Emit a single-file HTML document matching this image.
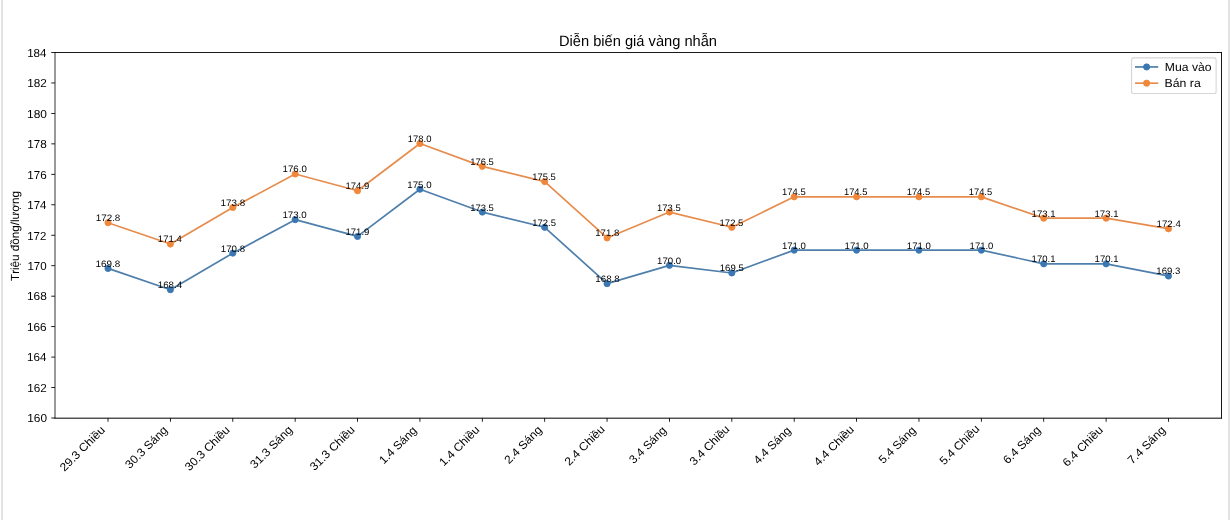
<!DOCTYPE html>
<html><head><meta charset="utf-8"><title>Diễn biến giá vàng nhẫn</title>
<style>html,body{margin:0;padding:0;background:#fff;}svg{display:block;}text{font-family:"Liberation Sans",sans-serif;fill:#000;font-kerning:none;text-rendering:geometricPrecision;}</style></head>
<body><svg width="1232" height="520" viewBox="0 0 1232 520">
<rect width="1232" height="520" fill="#fff"/>
<rect x="1" y="0" width="2" height="520" fill="#e2e2e2"/>
<rect x="1228" y="0" width="2" height="520" fill="#e2e2e2"/>
<rect x="54.6" y="52" width="0.8" height="366.5" fill="#000"/>
<rect x="55" y="52.06" width="1166.95" height="0.9" fill="#000"/>
<rect x="1221.05" y="52" width="0.9" height="366.5" fill="#000"/>
<rect x="54.5" y="417.67" width="1167.45" height="1.0" fill="#000"/>
<rect x="51.23" y="417.57" width="3.77" height="0.86" fill="#000"/>
<rect x="51.23" y="387.11" width="3.77" height="0.86" fill="#000"/>
<rect x="51.23" y="356.65" width="3.77" height="0.86" fill="#000"/>
<rect x="51.23" y="326.19" width="3.77" height="0.86" fill="#000"/>
<rect x="51.23" y="295.74" width="3.77" height="0.86" fill="#000"/>
<rect x="51.23" y="265.28" width="3.77" height="0.86" fill="#000"/>
<rect x="51.23" y="234.82" width="3.77" height="0.86" fill="#000"/>
<rect x="51.23" y="204.36" width="3.77" height="0.86" fill="#000"/>
<rect x="51.23" y="173.9" width="3.77" height="0.86" fill="#000"/>
<rect x="51.23" y="143.44" width="3.77" height="0.86" fill="#000"/>
<rect x="51.23" y="112.99" width="3.77" height="0.86" fill="#000"/>
<rect x="51.23" y="82.53" width="3.77" height="0.86" fill="#000"/>
<rect x="51.23" y="52.07" width="3.77" height="0.86" fill="#000"/>
<rect x="107.59" y="418" width="0.86" height="3.77" fill="#000"/>
<rect x="169.97" y="418" width="0.86" height="3.77" fill="#000"/>
<rect x="232.35" y="418" width="0.86" height="3.77" fill="#000"/>
<rect x="294.73" y="418" width="0.86" height="3.77" fill="#000"/>
<rect x="357.11" y="418" width="0.86" height="3.77" fill="#000"/>
<rect x="419.49" y="418" width="0.86" height="3.77" fill="#000"/>
<rect x="481.87" y="418" width="0.86" height="3.77" fill="#000"/>
<rect x="544.25" y="418" width="0.86" height="3.77" fill="#000"/>
<rect x="606.63" y="418" width="0.86" height="3.77" fill="#000"/>
<rect x="669.01" y="418" width="0.86" height="3.77" fill="#000"/>
<rect x="731.39" y="418" width="0.86" height="3.77" fill="#000"/>
<rect x="793.77" y="418" width="0.86" height="3.77" fill="#000"/>
<rect x="856.15" y="418" width="0.86" height="3.77" fill="#000"/>
<rect x="918.53" y="418" width="0.86" height="3.77" fill="#000"/>
<rect x="980.91" y="418" width="0.86" height="3.77" fill="#000"/>
<rect x="1043.29" y="418" width="0.86" height="3.77" fill="#000"/>
<rect x="1105.67" y="418" width="0.86" height="3.77" fill="#000"/>
<rect x="1168.05" y="418" width="0.86" height="3.77" fill="#000"/>
<rect x="1131.55" y="57.88" width="84.57" height="35.69" rx="2.15" fill="#fff" fill-opacity="0.8" stroke="#cccccc" stroke-opacity="0.8" stroke-width="1.08"/>
<polyline points="108.02,268.4 170.4,289.72 232.78,253.17 295.16,219.67 357.54,236.42 419.92,189.21 482.3,212.06 544.68,227.29 607.06,283.63 669.44,265.36 731.82,272.97 794.2,250.13 856.58,250.13 918.96,250.13 981.34,250.13 1043.72,263.84 1106.1,263.84 1168.48,276.02" fill="none" stroke="#4f7fab" stroke-width="1.7" stroke-linejoin="round" stroke-linecap="square"/>
<polyline points="108.02,222.72 170.4,244.04 232.78,207.49 295.16,173.98 357.54,190.74 419.92,143.53 482.3,166.37 544.68,181.6 607.06,237.95 669.44,212.06 731.82,227.29 794.2,196.83 856.58,196.83 918.96,196.83 981.34,196.83 1043.72,218.15 1106.1,218.15 1168.48,228.81" fill="none" stroke="#e68d4e" stroke-width="1.7" stroke-linejoin="round" stroke-linecap="square"/>
<circle cx="108.02" cy="268.4" r="3.1" fill="#3a77b3" stroke="#3a77b3" stroke-width="0.85"/>
<circle cx="170.4" cy="289.72" r="3.1" fill="#3a77b3" stroke="#3a77b3" stroke-width="0.85"/>
<circle cx="232.78" cy="253.17" r="3.1" fill="#3a77b3" stroke="#3a77b3" stroke-width="0.85"/>
<circle cx="295.16" cy="219.67" r="3.1" fill="#3a77b3" stroke="#3a77b3" stroke-width="0.85"/>
<circle cx="357.54" cy="236.42" r="3.1" fill="#3a77b3" stroke="#3a77b3" stroke-width="0.85"/>
<circle cx="419.92" cy="189.21" r="3.1" fill="#3a77b3" stroke="#3a77b3" stroke-width="0.85"/>
<circle cx="482.3" cy="212.06" r="3.1" fill="#3a77b3" stroke="#3a77b3" stroke-width="0.85"/>
<circle cx="544.68" cy="227.29" r="3.1" fill="#3a77b3" stroke="#3a77b3" stroke-width="0.85"/>
<circle cx="607.06" cy="283.63" r="3.1" fill="#3a77b3" stroke="#3a77b3" stroke-width="0.85"/>
<circle cx="669.44" cy="265.36" r="3.1" fill="#3a77b3" stroke="#3a77b3" stroke-width="0.85"/>
<circle cx="731.82" cy="272.97" r="3.1" fill="#3a77b3" stroke="#3a77b3" stroke-width="0.85"/>
<circle cx="794.2" cy="250.13" r="3.1" fill="#3a77b3" stroke="#3a77b3" stroke-width="0.85"/>
<circle cx="856.58" cy="250.13" r="3.1" fill="#3a77b3" stroke="#3a77b3" stroke-width="0.85"/>
<circle cx="918.96" cy="250.13" r="3.1" fill="#3a77b3" stroke="#3a77b3" stroke-width="0.85"/>
<circle cx="981.34" cy="250.13" r="3.1" fill="#3a77b3" stroke="#3a77b3" stroke-width="0.85"/>
<circle cx="1043.72" cy="263.84" r="3.1" fill="#3a77b3" stroke="#3a77b3" stroke-width="0.85"/>
<circle cx="1106.1" cy="263.84" r="3.1" fill="#3a77b3" stroke="#3a77b3" stroke-width="0.85"/>
<circle cx="1168.48" cy="276.02" r="3.1" fill="#3a77b3" stroke="#3a77b3" stroke-width="0.85"/>
<circle cx="108.02" cy="222.72" r="3.1" fill="#f0873a" stroke="#f0873a" stroke-width="0.85"/>
<circle cx="170.4" cy="244.04" r="3.1" fill="#f0873a" stroke="#f0873a" stroke-width="0.85"/>
<circle cx="232.78" cy="207.49" r="3.1" fill="#f0873a" stroke="#f0873a" stroke-width="0.85"/>
<circle cx="295.16" cy="173.98" r="3.1" fill="#f0873a" stroke="#f0873a" stroke-width="0.85"/>
<circle cx="357.54" cy="190.74" r="3.1" fill="#f0873a" stroke="#f0873a" stroke-width="0.85"/>
<circle cx="419.92" cy="143.53" r="3.1" fill="#f0873a" stroke="#f0873a" stroke-width="0.85"/>
<circle cx="482.3" cy="166.37" r="3.1" fill="#f0873a" stroke="#f0873a" stroke-width="0.85"/>
<circle cx="544.68" cy="181.6" r="3.1" fill="#f0873a" stroke="#f0873a" stroke-width="0.85"/>
<circle cx="607.06" cy="237.95" r="3.1" fill="#f0873a" stroke="#f0873a" stroke-width="0.85"/>
<circle cx="669.44" cy="212.06" r="3.1" fill="#f0873a" stroke="#f0873a" stroke-width="0.85"/>
<circle cx="731.82" cy="227.29" r="3.1" fill="#f0873a" stroke="#f0873a" stroke-width="0.85"/>
<circle cx="794.2" cy="196.83" r="3.1" fill="#f0873a" stroke="#f0873a" stroke-width="0.85"/>
<circle cx="856.58" cy="196.83" r="3.1" fill="#f0873a" stroke="#f0873a" stroke-width="0.85"/>
<circle cx="918.96" cy="196.83" r="3.1" fill="#f0873a" stroke="#f0873a" stroke-width="0.85"/>
<circle cx="981.34" cy="196.83" r="3.1" fill="#f0873a" stroke="#f0873a" stroke-width="0.85"/>
<circle cx="1043.72" cy="218.15" r="3.1" fill="#f0873a" stroke="#f0873a" stroke-width="0.85"/>
<circle cx="1106.1" cy="218.15" r="3.1" fill="#f0873a" stroke="#f0873a" stroke-width="0.85"/>
<circle cx="1168.48" cy="228.81" r="3.1" fill="#f0873a" stroke="#f0873a" stroke-width="0.85"/>
<line x1="1135.85" y1="66.95" x2="1157.38" y2="66.95" stroke="#4f7fab" stroke-width="1.7" stroke-linecap="square"/>
<circle cx="1146.62" cy="66.95" r="3.1" fill="#3a77b3" stroke="#3a77b3" stroke-width="0.85"/>
<line x1="1135.85" y1="83.18" x2="1157.38" y2="83.18" stroke="#e68d4e" stroke-width="1.7" stroke-linecap="square"/>
<circle cx="1146.62" cy="83.18" r="3.1" fill="#f0873a" stroke="#f0873a" stroke-width="0.85"/>
<g style="will-change:transform"><text x="95.61" y="266.85" font-size="9.34" textLength="24.75" lengthAdjust="spacingAndGlyphs">169.8</text>
<text x="95.76" y="221.17" font-size="9.34" textLength="24.57" lengthAdjust="spacingAndGlyphs">172.8</text>
<text x="157.79" y="288.18" font-size="9.34" textLength="24.33" lengthAdjust="spacingAndGlyphs">168.4</text>
<text x="157.86" y="242.49" font-size="9.34" textLength="23.95" lengthAdjust="spacingAndGlyphs">171.4</text>
<text x="220.77" y="251.63" font-size="9.34" textLength="24.27" lengthAdjust="spacingAndGlyphs">170.8</text>
<text x="220.64" y="205.94" font-size="9.34" textLength="24.67" lengthAdjust="spacingAndGlyphs">173.8</text>
<text x="282.40" y="218.12" font-size="9.34" textLength="24.35" lengthAdjust="spacingAndGlyphs">173.0</text>
<text x="282.58" y="172.43" font-size="9.34" textLength="24.20" lengthAdjust="spacingAndGlyphs">176.0</text>
<text x="345.51" y="234.87" font-size="9.34" textLength="23.90" lengthAdjust="spacingAndGlyphs">171.9</text>
<text x="345.57" y="189.19" font-size="9.34" textLength="23.75" lengthAdjust="spacingAndGlyphs">174.9</text>
<text x="407.39" y="187.66" font-size="9.34" textLength="24.14" lengthAdjust="spacingAndGlyphs">175.0</text>
<text x="407.77" y="141.98" font-size="9.34" textLength="23.64" lengthAdjust="spacingAndGlyphs">178.0</text>
<text x="470.16" y="210.51" font-size="9.34" textLength="23.68" lengthAdjust="spacingAndGlyphs">173.5</text>
<text x="470.28" y="164.82" font-size="9.34" textLength="23.53" lengthAdjust="spacingAndGlyphs">176.5</text>
<text x="532.26" y="225.74" font-size="9.34" textLength="23.63" lengthAdjust="spacingAndGlyphs">172.5</text>
<text x="532.26" y="180.05" font-size="9.34" textLength="23.55" lengthAdjust="spacingAndGlyphs">175.5</text>
<text x="595.33" y="282.08" font-size="9.34" textLength="24.31" lengthAdjust="spacingAndGlyphs">168.8</text>
<text x="595.29" y="236.40" font-size="9.34" textLength="24.03" lengthAdjust="spacingAndGlyphs">171.8</text>
<text x="657.13" y="263.81" font-size="9.34" textLength="24.06" lengthAdjust="spacingAndGlyphs">170.0</text>
<text x="657.08" y="210.51" font-size="9.34" textLength="23.60" lengthAdjust="spacingAndGlyphs">173.5</text>
<text x="719.75" y="271.42" font-size="9.34" textLength="23.95" lengthAdjust="spacingAndGlyphs">169.5</text>
<text x="719.60" y="225.74" font-size="9.34" textLength="23.71" lengthAdjust="spacingAndGlyphs">172.5</text>
<text x="781.93" y="248.58" font-size="9.34" textLength="23.97" lengthAdjust="spacingAndGlyphs">171.0</text>
<text x="782.06" y="195.28" font-size="9.34" textLength="23.57" lengthAdjust="spacingAndGlyphs">174.5</text>
<text x="844.59" y="248.58" font-size="9.34" textLength="24.07" lengthAdjust="spacingAndGlyphs">171.0</text>
<text x="843.96" y="195.28" font-size="9.34" textLength="23.40" lengthAdjust="spacingAndGlyphs">174.5</text>
<text x="906.82" y="248.58" font-size="9.34" textLength="24.06" lengthAdjust="spacingAndGlyphs">171.0</text>
<text x="906.70" y="195.28" font-size="9.34" textLength="23.39" lengthAdjust="spacingAndGlyphs">174.5</text>
<text x="969.60" y="248.58" font-size="9.34" textLength="23.81" lengthAdjust="spacingAndGlyphs">171.0</text>
<text x="968.76" y="195.28" font-size="9.34" textLength="23.37" lengthAdjust="spacingAndGlyphs">174.5</text>
<text x="1031.62" y="262.29" font-size="9.34" textLength="23.87" lengthAdjust="spacingAndGlyphs">170.1</text>
<text x="1031.55" y="216.60" font-size="9.34" textLength="24.06" lengthAdjust="spacingAndGlyphs">173.1</text>
<text x="1094.61" y="262.29" font-size="9.34" textLength="23.85" lengthAdjust="spacingAndGlyphs">170.1</text>
<text x="1094.54" y="216.60" font-size="9.34" textLength="23.96" lengthAdjust="spacingAndGlyphs">173.1</text>
<text x="1156.29" y="274.47" font-size="9.34" textLength="24.05" lengthAdjust="spacingAndGlyphs">169.3</text>
<text x="1156.57" y="227.26" font-size="9.34" textLength="24.23" lengthAdjust="spacingAndGlyphs">172.4</text>
<text x="63.99" y="471.03" font-size="11.58" textLength="58.33" lengthAdjust="spacingAndGlyphs" transform="rotate(-45 65.42 471.03)">29.3 Chiều</text>
<text x="129.63" y="468.70" font-size="11.58" textLength="54.34" lengthAdjust="spacingAndGlyphs" transform="rotate(-45 130.4 468.7)">30.3 Sáng</text>
<text x="189.39" y="470.96" font-size="11.58" textLength="57.78" lengthAdjust="spacingAndGlyphs" transform="rotate(-45 190.24 470.96)">30.3 Chiều</text>
<text x="254.64" y="468.77" font-size="11.58" textLength="54.32" lengthAdjust="spacingAndGlyphs" transform="rotate(-45 255.09 468.77)">31.3 Sáng</text>
<text x="314.49" y="471.03" font-size="11.58" textLength="57.78" lengthAdjust="spacingAndGlyphs" transform="rotate(-45 314.93 471.03)">31.3 Chiều</text>
<text x="383.46" y="463.97" font-size="11.58" textLength="47.70" lengthAdjust="spacingAndGlyphs" transform="rotate(-45 384.64 463.97)">1.4 Sáng</text>
<text x="443.61" y="466.23" font-size="11.58" textLength="51.30" lengthAdjust="spacingAndGlyphs" transform="rotate(-45 444.49 466.23)">1.4 Chiều</text>
<text x="508.66" y="463.90" font-size="11.58" textLength="47.84" lengthAdjust="spacingAndGlyphs" transform="rotate(-45 509.47 463.9)">2.4 Sáng</text>
<text x="569.09" y="466.16" font-size="11.58" textLength="51.33" lengthAdjust="spacingAndGlyphs" transform="rotate(-45 569.32 466.16)">2.4 Chiều</text>
<text x="633.60" y="463.90" font-size="11.58" textLength="47.09" lengthAdjust="spacingAndGlyphs" transform="rotate(-45 634.23 463.9)">3.4 Sáng</text>
<text x="694.34" y="466.16" font-size="11.58" textLength="50.95" lengthAdjust="spacingAndGlyphs" transform="rotate(-45 694.08 466.16)">3.4 Chiều</text>
<text x="757.79" y="463.90" font-size="11.58" textLength="47.42" lengthAdjust="spacingAndGlyphs" transform="rotate(-45 758.99 463.9)">4.4 Sáng</text>
<text x="818.31" y="466.16" font-size="11.58" textLength="51.43" lengthAdjust="spacingAndGlyphs" transform="rotate(-45 818.83 466.16)">4.4 Chiều</text>
<text x="883.19" y="463.90" font-size="11.58" textLength="46.96" lengthAdjust="spacingAndGlyphs" transform="rotate(-45 883.75 463.9)">5.4 Sáng</text>
<text x="944.43" y="466.16" font-size="11.58" textLength="50.80" lengthAdjust="spacingAndGlyphs" transform="rotate(-45 943.59 466.16)">5.4 Chiều</text>
<text x="1007.57" y="463.97" font-size="11.58" textLength="47.71" lengthAdjust="spacingAndGlyphs" transform="rotate(-45 1008.44 463.97)">6.4 Sáng</text>
<text x="1066.89" y="466.23" font-size="11.58" textLength="51.47" lengthAdjust="spacingAndGlyphs" transform="rotate(-45 1068.29 466.23)">6.4 Chiều</text>
<text x="1131.98" y="463.90" font-size="11.58" textLength="47.95" lengthAdjust="spacingAndGlyphs" transform="rotate(-45 1133.27 463.9)">7.4 Sáng</text>
<text x="27.23" y="422.26" font-size="11.58" textLength="19.75" lengthAdjust="spacingAndGlyphs">160</text>
<text x="27.26" y="391.80" font-size="11.58" textLength="19.47" lengthAdjust="spacingAndGlyphs">162</text>
<text x="27.06" y="361.35" font-size="11.58" textLength="19.37" lengthAdjust="spacingAndGlyphs">164</text>
<text x="27.10" y="330.89" font-size="11.58" textLength="19.54" lengthAdjust="spacingAndGlyphs">166</text>
<text x="27.02" y="300.43" font-size="11.58" textLength="19.81" lengthAdjust="spacingAndGlyphs">168</text>
<text x="27.39" y="269.97" font-size="11.58" textLength="19.26" lengthAdjust="spacingAndGlyphs">170</text>
<text x="27.25" y="239.51" font-size="11.58" textLength="19.05" lengthAdjust="spacingAndGlyphs">172</text>
<text x="27.25" y="209.05" font-size="11.58" textLength="19.27" lengthAdjust="spacingAndGlyphs">174</text>
<text x="27.34" y="178.60" font-size="11.58" textLength="19.41" lengthAdjust="spacingAndGlyphs">176</text>
<text x="27.25" y="148.14" font-size="11.58" textLength="19.56" lengthAdjust="spacingAndGlyphs">178</text>
<text x="27.06" y="117.68" font-size="11.58" textLength="19.93" lengthAdjust="spacingAndGlyphs">180</text>
<text x="27.22" y="87.22" font-size="11.58" textLength="19.62" lengthAdjust="spacingAndGlyphs">182</text>
<text x="27.15" y="56.76" font-size="11.58" textLength="19.41" lengthAdjust="spacingAndGlyphs">184</text>
<text x="19.54" y="279.30" font-size="11.72" textLength="89.84" lengthAdjust="spacingAndGlyphs" transform="rotate(-90 20.2 280.3)">Triệu đồng/lượng</text>
<text x="559.01" y="46.04" font-size="15.09" textLength="158.01" lengthAdjust="spacingAndGlyphs">Diễn biến giá vàng nhẫn</text>
<text x="1164.86" y="70.71" font-size="11.74" textLength="46.63" lengthAdjust="spacingAndGlyphs">Mua vào</text>
<text x="1164.62" y="86.94" font-size="11.74" textLength="36.15" lengthAdjust="spacingAndGlyphs">Bán ra</text></g>
</svg></body></html>
